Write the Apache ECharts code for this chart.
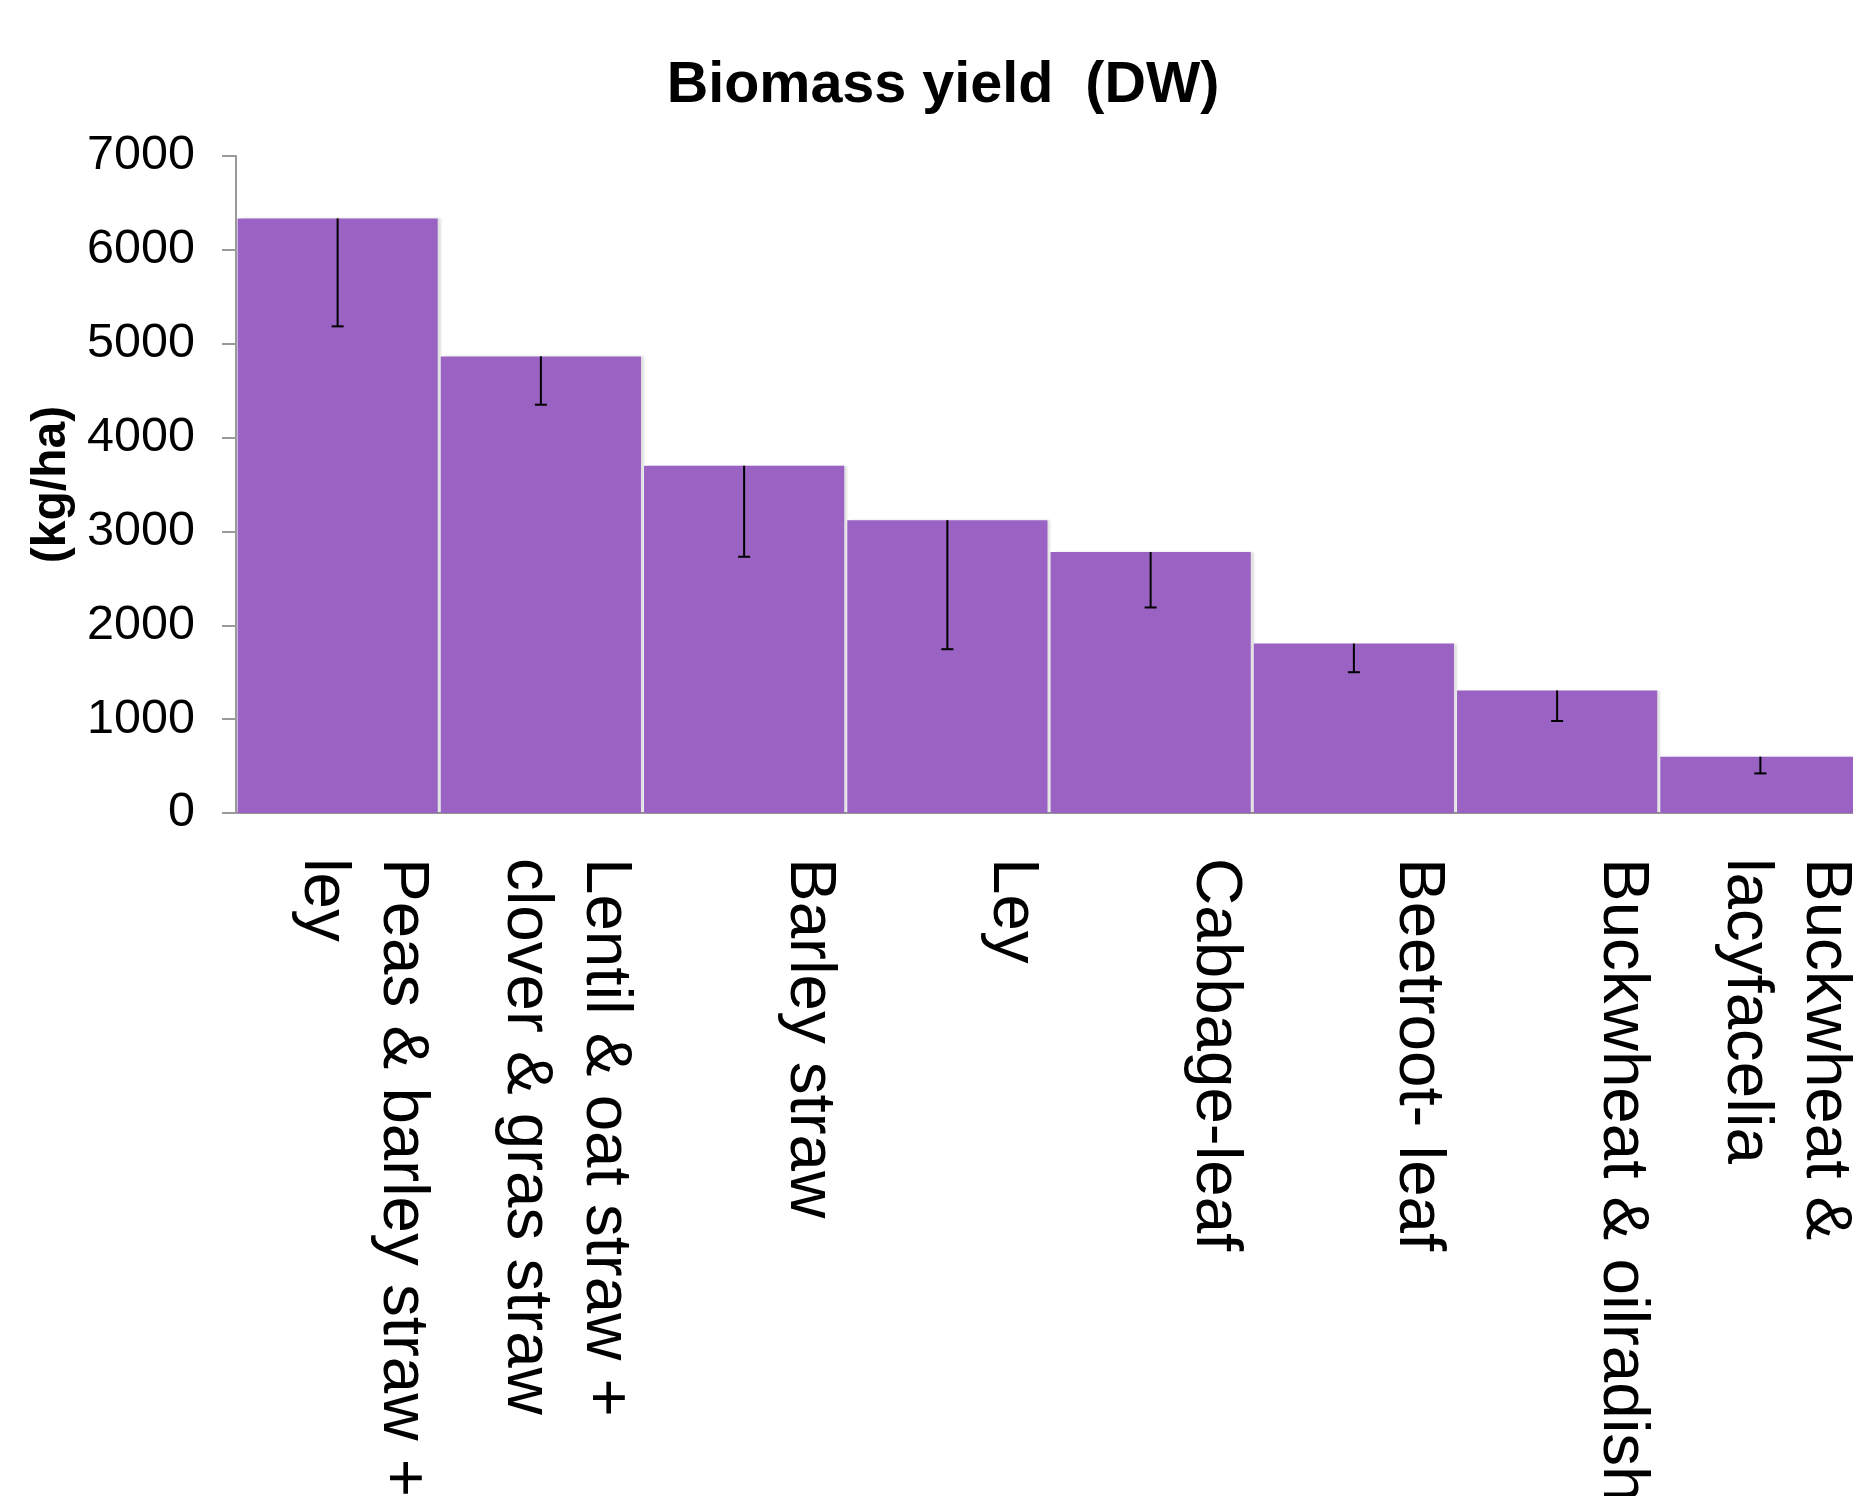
<!DOCTYPE html>
<html>
<head>
<meta charset="utf-8">
<title>Biomass yield (DW)</title>
<script src="https://cdn.jsdelivr.net/npm/echarts@6/dist/echarts.min.js"></script>
<style>
    html, body { margin: 0; padding: 0; background: #fff; overflow: hidden; }
    #chart { width: 1853px; height: 1496px; }
</style>
</head>
<body>
<div id="chart"></div>
<script>
    // categories as they are written under the bars
    var categories = [
        'Peas & barley straw +\nley',
        'Lentil & oat straw +\nclover & gras straw',
        'Barley straw',
        'Ley',
        'Cabbage-leaf',
        'Beetroot- leaf',
        'Buckwheat & oilradish',
        'Buckwheat &\nlacyfacelia'
    ];
    // biomass yield, kg/ha dry weight
    var biomass = [6335, 4865, 3700, 3120, 2780, 1805, 1305, 600];
    // error bars, only drawn downwards
    var errMinus = [1150, 515, 970, 1375, 590, 305, 325, 178];
    // y axis ticks
    var yMin = 0;
    var yMax = 7000;
    var yStep = 1000;

    var font = "'Liberation Sans', Arial, sans-serif";
    var chart = echarts.init(document.getElementById('chart'));

    var errData = biomass.map(function (v, i) {
        return [i, v, v - errMinus[i]];
    });

    var option = {
        backgroundColor: '#fff',
        animation: false,
        title: {
            text: 'Biomass yield  (DW)',
            left: 938,
            top: 52,
            textAlign: 'center',
            textStyle: {
                fontFamily: font,
                fontSize: 57.5,
                fontWeight: 'bold',
                color: '#000'
            }
        },
        grid: [
            // the chart itself, last bar runs off the right edge like the original
            {left: 236, top: 156, bottom: 683, width: 1626, outerBoundsMode: 'none', containLabel: false},
            // only used to place the rotated category labels
            {left: 340, top: 156, bottom: 683, width: 1626, outerBoundsMode: 'none', containLabel: false}
        ],
        xAxis: [
            {
                type: 'category',
                gridIndex: 0,
                data: categories,
                axisLine: {lineStyle: {color: '#999', width: 2}},
                axisTick: {show: false},
                axisLabel: {show: false}
            },
            {
                type: 'category',
                gridIndex: 1,
                data: categories,
                axisLine: {show: false},
                axisTick: {show: false},
                axisLabel: {
                    interval: 0,
                    rotate: -90,
                    align: 'left',
                    verticalAlign: 'top',
                    margin: 45,
                    hideOverlap: false,
                    fontFamily: font,
                    fontSize: 65.5,
                    lineHeight: 79,
                    color: '#000'
                }
            }
        ],
        yAxis: [
            {
                type: 'value',
                gridIndex: 0,
                min: yMin,
                max: yMax,
                interval: yStep,
                name: '(kg/ha)',
                nameLocation: 'middle',
                nameGap: 146,
                nameTextStyle: {
                    fontFamily: font,
                    fontSize: 48,
                    fontWeight: 'bold',
                    color: '#000'
                },
                axisLine: {show: true, lineStyle: {color: '#999', width: 2}},
                axisTick: {show: true, length: 14, lineStyle: {color: '#999', width: 2}},
                splitLine: {show: false},
                axisLabel: {
                    margin: 41,
                    fontFamily: font,
                    fontSize: 48.5,
                    color: '#000',
                    formatter: function (v) {
                        return String(v);
                    }
                }
            },
            {
                type: 'value',
                gridIndex: 1,
                min: yMin,
                max: yMax,
                show: false
            }
        ],
        series: [
            {
                name: 'Biomass yield',
                type: 'bar',
                xAxisIndex: 0,
                yAxisIndex: 0,
                barCategoryGap: '1.5%',
                itemStyle: {
                    color: '#9962c3',
                    shadowColor: 'rgba(0,0,0,0.12)',
                    shadowOffsetX: 3,
                    shadowBlur: 2
                },
                data: biomass
            },
            {
                name: 'Error',
                type: 'custom',
                xAxisIndex: 0,
                yAxisIndex: 0,
                z: 5,
                renderItem: function (params, api) {
                    var top = api.coord([api.value(0), api.value(1)]);
                    var low = api.coord([api.value(0), api.value(2)]);
                    var cap = 6;
                    return {
                        type: 'group',
                        children: [
                            {
                                type: 'line',
                                shape: {x1: top[0], y1: top[1], x2: low[0], y2: low[1]},
                                style: {stroke: '#000', lineWidth: 2}
                            },
                            {
                                type: 'line',
                                shape: {x1: low[0] - cap, y1: low[1], x2: low[0] + cap, y2: low[1]},
                                style: {stroke: '#000', lineWidth: 2}
                            }
                        ]
                    };
                },
                encode: {x: 0, y: [1, 2]},
                data: errData
            }
        ]
    };
    chart.setOption(option);
</script>
</body>
</html>
